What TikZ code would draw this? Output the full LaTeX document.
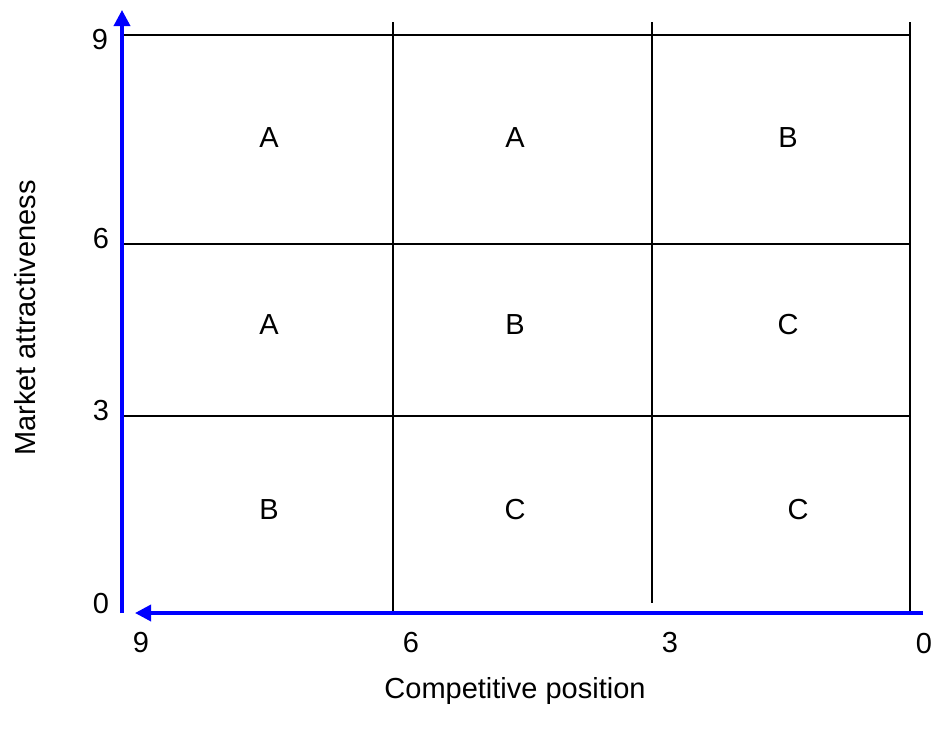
\documentclass[tikz,border=0pt]{standalone}
\usepackage{fontspec}
\setmainfont{Liberation Sans}
\usetikzlibrary{arrows.meta}
\begin{document}
\begin{tikzpicture}[x=1pt,y=-1pt,
  grid/.style={line width=1.5pt,black},
  axis/.style={line width=3.5pt,blue,-{Triangle[length=16pt,width=16pt]}},
  lbl/.style={font=\fontsize{29}{34}\selectfont,inner sep=0pt},
  cell/.style={lbl}]
\useasboundingbox (0,0) rectangle (934,736);

% corner coordinates of the grid
\coordinate (o) at (122,613);
\coordinate (ytop) at (122,10);
\coordinate (xend) at (923,613);
\coordinate (xtip) at (135,613);

% horizontal grid lines
\coordinate (h9a) at (122,35);  \coordinate (h9b) at (910,35);
\coordinate (h6a) at (122,244); \coordinate (h6b) at (910,244);
\coordinate (h3a) at (122,416); \coordinate (h3b) at (910,416);
\draw[grid] (h9a) -- (h9b);
\draw[grid] (h6a) -- (h6b);
\draw[grid] (h3a) -- (h3b);

% vertical grid lines
\coordinate (v6a) at (393,22); \coordinate (v6b) at (393,613);
\coordinate (v3a) at (652,22); \coordinate (v3b) at (652,603);
\coordinate (v0a) at (910,22); \coordinate (v0b) at (910,613);
\draw[grid] (v6a) -- (v6b);
\draw[grid] (v3a) -- (v3b);
\draw[grid] (v0a) -- (v0b);

% axes
\draw[axis] (o) -- (ytop);
\draw[axis] (xend) -- (xtip);

% vertical scale
\node[lbl] (y9) at (100,40) {9};
\node[lbl] (y6) at (101,239) {6};
\node[lbl] (y3) at (101,411) {3};
\node[lbl] (y0) at (101,604) {0};

% horizontal scale
\node[lbl] (x9) at (141,643) {9};
\node[lbl] (x6) at (411,643) {6};
\node[lbl] (x3) at (670,643) {3};
\node[lbl] (x0) at (924,644) {0};

% axis titles
\node[lbl,rotate=90] (ytitle) at (25,318) {Market attractiveness};
\node[lbl] (xtitle) at (515,691) {Competitive position};

% cell classes
\node[cell] (c11) at (269,138) {A};
\node[cell] (c12) at (515,138) {A};
\node[cell] (c13) at (788,138) {B};
\node[cell] (c21) at (269,325) {A};
\node[cell] (c22) at (515,325) {B};
\node[cell] (c23) at (788,325) {C};
\node[cell] (c31) at (269,510) {B};
\node[cell] (c32) at (515,510) {C};
\node[cell] (c33) at (798,510) {C};
\end{tikzpicture}
\end{document}
